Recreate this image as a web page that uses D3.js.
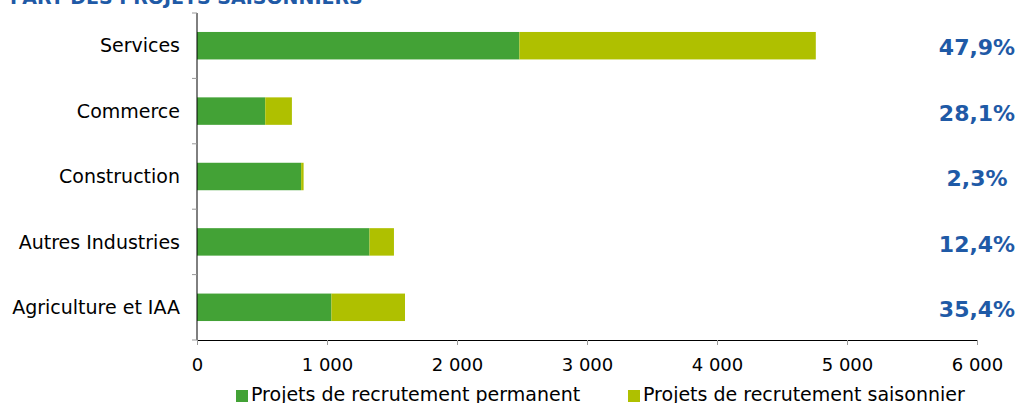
<!DOCTYPE html>
<html>
<head>
<meta charset="utf-8">
<script src="https://cdn.jsdelivr.net/npm/d3@7"></script>
<style>
  body { margin: 0; background: #fff; }
  svg text { font-family: "DejaVu Sans", Verdana, sans-serif; }
</style>
</head>
<body>
<div id="chart"></div>
<script>
const categories = ["Services", "Commerce", "Construction", "Autres Industries", "Agriculture et IAA"];
const permanent = [2480, 525, 801, 1327, 1034];
const saisonnier = [2280, 205, 19, 188, 566];
const shareLabels = ["47,9%", "28,1%", "2,3%", "12,4%", "35,4%"];
const xTicks = [0, 1000, 2000, 3000, 4000, 5000, 6000];
const seriesNames = ["Projets de recrutement permanent", "Projets de recrutement saisonnier"];
const colors = ["#43a236", "#afc000"];

const width = 1016, height = 403;
const svg = d3.select("#chart").append("svg")
    .attr("width", width)
    .attr("height", height);

// title, mostly cut off at the top
svg.append("text")
    .attr("x", 10)
    .attr("y", 4)
    .attr("fill", "#1f5aa6")
    .attr("font-weight", "bold")
    .attr("font-size", 19)
    .text("PART DES PROJETS SAISONNIERS");

const x = d3.scaleLinear().domain([0, 6000]).range([197, 977]);
const y = d3.scaleBand().domain(categories).range([13, 340]).paddingInner(0.58).paddingOuter(0.29);
const yBand = d3.scaleBand().domain(categories).range([13, 340]);

const data = categories.map((c, i) => ({ cat: c, perm: permanent[i], seas: saisonnier[i] }));

svg.selectAll("rect.perm")
    .data(data)
    .enter()
    .append("rect")
    .attr("class", "perm")
    .attr("x", x(0))
    .attr("y", d => y(d.cat))
    .attr("width", d => x(d.perm) - x(0))
    .attr("height", y.bandwidth())
    .attr("fill", colors[0]);

svg.selectAll("rect.seas")
    .data(data)
    .enter()
    .append("rect")
    .attr("class", "seas")
    .attr("x", d => x(d.perm))
    .attr("y", d => y(d.cat))
    .attr("width", d => x(d.perm + d.seas) - x(d.perm))
    .attr("height", y.bandwidth())
    .attr("fill", colors[1]);

// y axis
svg.append("line")
    .attr("x1", 197).attr("x2", 197)
    .attr("y1", 13).attr("y2", 340)
    .attr("stroke", "#000");
const yEdges = categories.map(c => yBand(c)).concat([340]);
svg.selectAll("line.ytick")
    .data(yEdges)
    .enter()
    .append("line")
    .attr("x1", 192).attr("x2", 197)
    .attr("y1", d => d).attr("y2", d => d)
    .attr("stroke", "#999");
svg.selectAll("text.cat")
    .data(categories)
    .enter()
    .append("text")
    .attr("x", 180)
    .attr("y", d => yBand(d) + yBand.bandwidth() / 2)
    .attr("dy", "0.35em")
    .attr("text-anchor", "end")
    .attr("font-size", 19)
    .attr("fill", "#000")
    .text(d => d);

// x axis
const xAxis = d3.axisBottom(x)
    .tickValues(xTicks)
    .tickSize(5)
    .tickFormat(d => d3.format(",")(d).replace(",", " "));
const gx = svg.append("g").attr("transform", "translate(0,340)").call(xAxis);
gx.select(".domain").attr("stroke", "#000").attr("d", "M197,0.5H977");
gx.selectAll(".tick line").attr("stroke", "#999");
gx.selectAll(".tick text")
    .attr("y", 25)
    .attr("dy", "0.35em")
    .attr("font-size", 18)
    .attr("fill", "#000")
    .style("font-family", "'DejaVu Sans', Verdana, sans-serif");

// share labels
svg.selectAll("text.share")
    .data(shareLabels)
    .enter()
    .append("text")
    .attr("x", 977)
    .attr("y", (d, i) => yBand(categories[i]) + yBand.bandwidth() / 2 + 2)
    .attr("dy", "0.35em")
    .attr("text-anchor", "middle")
    .attr("font-size", 22)
    .attr("font-weight", "bold")
    .attr("fill", "#1f5aa6")
    .text(d => d);

// legend
const legendX = [236, 628];
const lg = svg.selectAll("g.legend")
    .data(seriesNames)
    .enter()
    .append("g")
    .attr("transform", (d, i) => `translate(${legendX[i]},390)`);
lg.append("rect")
    .attr("width", 12).attr("height", 12)
    .attr("fill", (d, i) => colors[i]);
lg.append("text")
    .attr("x", 15)
    .attr("y", 11)
    .attr("font-size", 19)
    .attr("fill", "#000")
    .text(d => d);
</script>
</body>
</html>
